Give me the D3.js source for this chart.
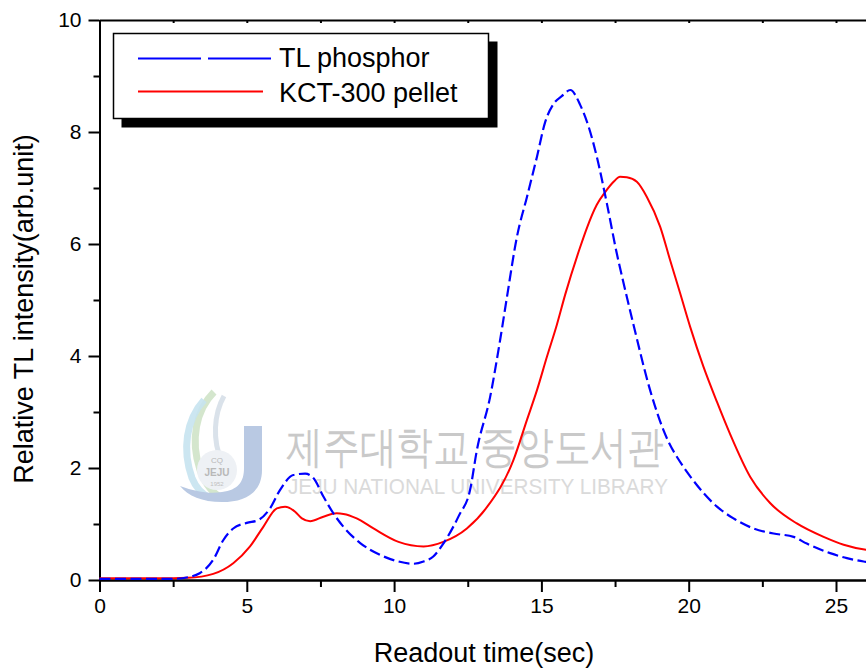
<!DOCTYPE html>
<html>
<head>
<meta charset="utf-8">
<script src="https://cdn.jsdelivr.net/npm/d3@7"></script>
<style>
  html, body { margin: 0; padding: 0; background: #fff; }
  svg { display: block; }
  text { font-family: "Liberation Sans", Arial, sans-serif; }
</style>
</head>
<body>
<svg id="chart" width="866" height="672"></svg>
<script>
// ---- data ----
const phosphorTime = [0, 1, 2, 2.5, 3.0, 3.4, 3.86, 4.2, 4.54, 5.0, 5.39, 5.79, 6.13, 6.58, 6.98, 7.26, 7.6, 7.94, 8.28, 8.85, 9.52, 10.15, 10.66, 11.0, 11.33, 11.67, 12.2, 12.58, 12.81, 13.26, 13.6, 13.83, 14.17, 14.51, 14.85, 15.13, 15.41, 15.69, 15.98, 16.32, 16.6, 16.88, 17.22, 17.56, 17.79, 18.13, 18.69, 19.14, 19.82, 20.05, 20.96, 21.52, 22.2, 22.88, 23.56, 24.01, 24.8, 25.37, 25.94, 26.4];
const phosphorValue = [0.02, 0.02, 0.02, 0.02, 0.05, 0.12, 0.36, 0.71, 0.92, 1.02, 1.07, 1.28, 1.61, 1.875, 1.9, 1.82, 1.49, 1.19, 0.95, 0.66, 0.45, 0.33, 0.29, 0.33, 0.42, 0.65, 1.15, 1.61, 2.32, 3.27, 4.29, 5.05, 6.13, 6.84, 7.56, 8.18, 8.5, 8.64, 8.75, 8.48, 8.1, 7.56, 6.73, 5.83, 5.3, 4.55, 3.39, 2.68, 2.02, 1.85, 1.31, 1.1, 0.92, 0.83, 0.77, 0.65, 0.48, 0.39, 0.33, 0.30];

const pelletTime = [0, 2, 3, 3.86, 4.54, 5.11, 5.56, 6.02, 6.3, 6.64, 6.87, 7.15, 7.6, 8.05, 8.28, 8.73, 9.3, 10.15, 11.0, 11.67, 12.47, 13.15, 14.05, 14.51, 14.85, 15.19, 15.52, 15.81, 16.32, 16.54, 16.88, 17.17, 17.45, 17.67, 17.9, 18.24, 18.58, 19.03, 19.37, 19.71, 20.05, 20.5, 20.96, 21.41, 22.09, 22.77, 23.67, 24.58, 25.26, 26.02, 26.4];
const pelletValue = [0.03, 0.03, 0.04, 0.11, 0.30, 0.6, 0.95, 1.28, 1.31, 1.22, 1.1, 1.05, 1.13, 1.19, 1.18, 1.1, 0.92, 0.68, 0.6, 0.68, 0.92, 1.3, 2.14, 2.86, 3.39, 3.99, 4.55, 5.1, 5.95, 6.28, 6.7, 6.93, 7.11, 7.2, 7.19, 7.11, 6.84, 6.31, 5.71, 5.12, 4.52, 3.81, 3.18, 2.6, 1.84, 1.37, 1.01, 0.77, 0.63, 0.54, 0.52];

const xMajorTicks = [0, 5, 10, 15, 20, 25];
const xMinorTicks = [2.5, 7.5, 12.5, 17.5, 22.5];
const yMajorTicks = [0, 2, 4, 6, 8, 10];
const yMinorTicks = [1, 3, 5, 7, 9];

const seriesNames = ["TL phosphor", "KCT-300 pellet"];
const xTitle = "Readout time(sec)";
const yTitle = "Relative TL intensity(arb.unit)";

// ---- layout ----
const svg = d3.select("#chart");
const x0 = 99.5, pxPerUnit = 29.46;
const x = d3.scaleLinear().domain([0, 30]).range([x0, x0 + 30 * pxPerUnit]);
const y = d3.scaleLinear().domain([0, 10]).range([580, 20]);

// ---- watermark ----
const wm = svg.append("g").attr("class", "watermark");
wm.append("path").attr("d", "M214,392 C196,410 190,440 200,470 C206,486 214,494 222,498")
  .attr("fill", "none").attr("stroke", "#cfe3c8").attr("stroke-width", 7).attr("opacity", 0.9);
wm.append("path").attr("d", "M204,400 C186,420 182,450 192,478 C196,488 202,494 210,498")
  .attr("fill", "none").attr("stroke", "#c6e3ef").attr("stroke-width", 7).attr("opacity", 0.9);
wm.append("path").attr("d", "M224,396 C214,414 212,440 222,462")
  .attr("fill", "none").attr("stroke", "#d6dfe8").attr("stroke-width", 5).attr("opacity", 0.9);
wm.append("path").attr("d", "M244,426 L262,426 L262,470 C262,492 246,502 222,502 C202,502 188,496 180,486 C196,492 210,494 222,492 C238,490 244,482 244,468 Z")
  .attr("fill", "#b9c9e3");
wm.append("circle").attr("cx", 217).attr("cy", 470).attr("r", 20).attr("fill", "#eef1f5");
wm.append("text").attr("x", 217).attr("y", 463).attr("text-anchor", "middle")
  .attr("font-size", 8).attr("fill", "#b8b8b8").text("CQ");
wm.append("text").attr("x", 217).attr("y", 476).attr("text-anchor", "middle")
  .attr("font-size", 10).attr("font-weight", "bold").attr("fill", "#b8b8b8").text("JEJU");
wm.append("text").attr("x", 217).attr("y", 486).attr("text-anchor", "middle")
  .attr("font-size", 6).attr("fill", "#c0c0c0").text("1952");
wm.append("text").attr("x", 286).attr("y", 462)
  .attr("font-family", "'Noto Sans CJK KR', sans-serif").attr("font-size", 44)
  .attr("textLength", 378).attr("lengthAdjust", "spacingAndGlyphs")
  .attr("fill", "#c9c9c9").text("제주대학교 중앙도서관");
wm.append("text").attr("x", 288).attr("y", 494)
  .attr("font-size", 22).attr("textLength", 380).attr("lengthAdjust", "spacingAndGlyphs")
  .attr("fill", "#dadada").text("JEJU NATIONAL UNIVERSITY  LIBRARY");

// ---- axes ----
function styleAxis(g) {
  g.select(".domain").attr("stroke", "#000").attr("stroke-width", 2);
  g.selectAll(".tick line").attr("stroke", "#000").attr("stroke-width", 2);
  g.selectAll("text").attr("font-size", 21).attr("fill", "#000")
    .attr("font-family", "'Liberation Sans', Arial, sans-serif");
}

svg.append("g").attr("transform", "translate(0,580)")
  .call(d3.axisBottom(x).tickValues(xMinorTicks).tickSize(7).tickFormat("").tickSizeOuter(0))
  .call(styleAxis);
svg.append("g").attr("transform", "translate(0,580)")
  .call(d3.axisBottom(x).tickValues(xMajorTicks).tickSize(12).tickPadding(6).tickSizeOuter(0))
  .call(styleAxis);
svg.append("g").attr("transform", "translate(0,20)")
  .call(d3.axisTop(x).tickValues(xMajorTicks.concat(xMinorTicks)).tickSize(-3).tickFormat("").tickSizeOuter(0))
  .call(styleAxis);
svg.append("g").attr("transform", "translate(" + x0 + ",0)")
  .call(d3.axisLeft(y).tickValues(yMinorTicks).tickSize(6).tickFormat("").tickSizeOuter(0))
  .call(styleAxis);
svg.append("g").attr("transform", "translate(" + x0 + ",0)")
  .call(d3.axisLeft(y).tickValues(yMajorTicks).tickSize(11).tickPadding(7).tickSizeOuter(0))
  .call(styleAxis);

// ---- lines ----
const line = d3.line().x(d => x(d[0])).y(d => y(d[1])).curve(d3.curveMonotoneX);
const phosphorData = phosphorTime.map((t, i) => [t, phosphorValue[i]]);
const pelletData = pelletTime.map((t, i) => [t, pelletValue[i]]);

svg.append("path").datum(pelletData).attr("d", line)
  .attr("fill", "none").attr("stroke", "#ff0000").attr("stroke-width", 2);
svg.append("path").datum(phosphorData).attr("d", line)
  .attr("fill", "none").attr("stroke", "#0000ff").attr("stroke-width", 2.2)
  .attr("stroke-dasharray", "11,4.5");

// ---- axis titles ----
svg.append("text").attr("x", 484).attr("y", 662).attr("text-anchor", "middle")
  .attr("font-size", 27).attr("fill", "#000").text(xTitle);
svg.append("text").attr("transform", "translate(33,309) rotate(-90)").attr("text-anchor", "middle")
  .attr("font-size", 27).attr("fill", "#000").text(yTitle);

// ---- legend ----
const lg = svg.append("g");
lg.append("rect").attr("x", 121.5).attr("y", 41.5).attr("width", 376).attr("height", 86).attr("fill", "#000");
lg.append("rect").attr("x", 113.5).attr("y", 33.5).attr("width", 375).attr("height", 85)
  .attr("fill", "#fff").attr("stroke", "#000").attr("stroke-width", 1.5);
lg.append("line").attr("x1", 138).attr("x2", 272).attr("y1", 58.5).attr("y2", 58.5)
  .attr("stroke", "#0000ff").attr("stroke-width", 2).attr("stroke-dasharray", "63,7");
lg.append("line").attr("x1", 138).attr("x2", 263).attr("y1", 91.5).attr("y2", 91.5)
  .attr("stroke", "#ff0000").attr("stroke-width", 2);
lg.append("text").attr("x", 279).attr("y", 67).attr("font-size", 27).attr("fill", "#000").text(seriesNames[0]);
lg.append("text").attr("x", 279).attr("y", 102).attr("font-size", 27).attr("fill", "#000").text(seriesNames[1]);
</script>
</body>
</html>
